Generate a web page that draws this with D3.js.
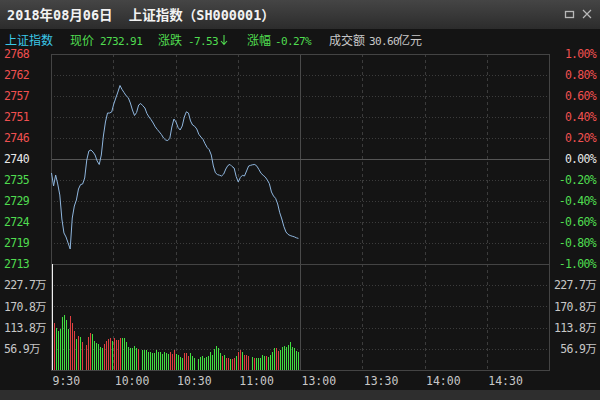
<!DOCTYPE html>
<html lang="zh-CN">
<head>
    <meta charset="UTF-8">
    <title>上证指数 分时图</title>
    <script src="https://cdn.jsdelivr.net/npm/d3@7/dist/d3.min.js"></script>
    <style>
        html, body { margin: 0; padding: 0; background: #141414; }
        svg { display: block; }
    </style>
</head>
<body>
    <div class="chart"></div>
</body>
<script>
    // ---- data ----
    const prevClose = 2740.44
    const titleDate = '2018年08月06日'
    const titleName = '上证指数（SH000001）'
    const indexName = '上证指数'
    const lastPrice = '2732.91'
    const change = '-7.53'
    const changePct = '-0.27%'
    const amount = '30.60'

    const timeTicks = [0, 30, 60, 90, 120, 150, 180, 210]
    const timeLabels = ['9:30', '10:00', '10:30', '11:00', '13:00', '13:30', '14:00', '14:30']
    const pctTicks = [1, 0.8, 0.6, 0.4, 0.2, 0, -0.2, -0.4, -0.6, -0.8, -1]
    const pctLabels = ['1.00%', '0.80%', '0.60%', '0.40%', '0.20%', '0.00%', '-0.20%', '-0.40%', '-0.60%', '-0.80%', '-1.00%']
    const priceLabels = ['2768', '2762', '2757', '2751', '2746', '2740', '2735', '2729', '2724', '2719', '2713']
    const volTicks = [56.9, 113.8, 170.8, 227.7]
    const volLabels = ['56.9万', '113.8万', '170.8万', '227.7万']
    const volMax = 284.6

    // one value per minute from 9:30
    const prices = [2736.79, 2733.39, 2736.26, 2733.92, 2731.05, 2724.78, 2721.13, 2720.09, 2718.52, 2716.95,
        2725.04, 2728.17, 2729.74, 2732.61, 2733.76, 2733.92, 2735.48, 2740.18, 2742.53, 2742.79,
        2742.27, 2741.48, 2739.92, 2739.00, 2741.48, 2746.44, 2750.10, 2752.44, 2752.44, 2752.71,
        2754.79, 2756.36, 2757.92, 2759.62, 2758.58, 2757.74, 2756.93, 2756.44, 2755.05, 2753.23,
        2751.79, 2752.57, 2754.53, 2754.92, 2754.35, 2753.75, 2752.31, 2751.40, 2750.70, 2749.83,
        2748.84, 2748.14, 2747.49, 2746.81, 2745.92, 2745.40, 2745.24, 2745.79, 2748.79, 2750.88,
        2750.10, 2748.66, 2748.01, 2749.05, 2751.40, 2752.76, 2752.44, 2750.36, 2749.31, 2748.97,
        2748.27, 2746.89, 2746.18, 2745.58, 2744.41, 2743.44, 2742.87, 2741.48, 2738.61, 2736.84,
        2736.37, 2736.21, 2736.00, 2736.53, 2737.83, 2738.74, 2739.03, 2738.48, 2738.09, 2735.87,
        2734.44, 2735.61, 2736.19, 2736.00, 2737.31, 2738.61, 2738.80, 2738.95, 2739.00, 2738.56,
        2737.65, 2736.71, 2736.19, 2735.74, 2734.96, 2733.99, 2731.83, 2730.78, 2730.16, 2728.70,
        2726.40, 2724.78, 2722.80, 2721.39, 2720.76, 2720.47, 2720.29, 2720.13, 2719.87, 2719.72]

    // 万手
    const volumes = [300, 125, 114, 106, 110, 142, 148, 135, 110, 146,
        125, 105, 83, 91, 88, 76, 67, 89, 98, 96,
        78, 72, 69, 63, 58, 69, 78, 83, 85, 78,
        87, 81, 81, 85, 87, 87, 74, 63, 58, 60,
        64, 58, 56, 54, 53, 54, 49, 47, 45, 45,
        54, 49, 49, 44, 49, 45, 42, 47, 42, 54,
        42, 40, 36, 33, 45, 45, 38, 45, 38, 31,
        30, 36, 38, 33, 36, 38, 47, 40, 56, 65,
        58, 45, 38, 40, 33, 31, 30, 30, 31, 38,
        49, 54, 49, 40, 40, 38, 36, 31, 33, 33,
        33, 40, 38, 38, 36, 40, 49, 58, 60, 51,
        54, 63, 65, 63, 67, 74, 63, 58, 51, 47]

    // 1 up, -1 down, 0 flat
    const volDir = [0, 1, -1, -1, -1, -1, -1, -1, -1, 1,
        1, 1, -1, 1, -1, 1, 1, 1, 1, -1,
        -1, -1, -1, -1, -1, 1, 1, 1, 1, -1,
        1, 1, 1, 1, -1, -1, -1, -1, -1, -1,
        -1, -1, 1, -1, -1, -1, -1, -1, -1, -1,
        -1, -1, -1, -1, -1, -1, -1, 1, 1, 1,
        -1, -1, -1, -1, 1, 1, 1, -1, -1, -1,
        -1, -1, -1, -1, -1, -1, -1, -1, -1, -1,
        -1, -1, 1, -1, 1, 1, -1, 1, 1, -1,
        1, 1, -1, 1, 1, 1, -1, 1, -1, -1,
        -1, -1, -1, 1, -1, -1, -1, -1, 1, 1,
        -1, -1, -1, -1, -1, -1, -1, -1, -1, -1]

    // ---- layout ----
    const width = 600
    const height = 400
    const plot = { left: 51, right: 549, top: 54, mid: 264, bottom: 370 }
    const RED = '#f05050'
    const GREEN = '#50dc50'
    const BAR_RED = '#e04040'
    const BAR_GREEN = '#40e040'
    const GRAY = '#c8c8c8'
    const MONO = '"DejaVu Sans Mono", "Liberation Mono", monospace'
    const CJK = '"Noto Sans CJK SC", sans-serif'

    const svg = d3.select('.chart')
        .append('svg')
        .attr('width', width)
        .attr('height', height)

    const defs = svg.append('defs')
    const grad = defs.append('linearGradient').attr('id', 'titlebg')
        .attr('x1', 0).attr('y1', 0).attr('x2', 0).attr('y2', 1)
    grad.append('stop').attr('offset', '0%').attr('stop-color', '#454545')
    grad.append('stop').attr('offset', '100%').attr('stop-color', '#2c2c2c')

    svg.append('rect').attr('width', width).attr('height', height).attr('fill', '#141414')
    svg.append('rect').attr('width', width).attr('height', 29).attr('fill', 'url(#titlebg)')
    svg.append('rect').attr('y', 390).attr('width', width).attr('height', 10).attr('fill', '#2e2e2e')

    // title
    svg.append('text')
        .attr('x', 7).attr('y', 20)
        .attr('fill', '#f2f2f2')
        .style('font', `bold 13.5px ${MONO}, ${CJK}`)
        .style('white-space', 'pre')
        .text(titleDate + '  ' + titleName)

    // window buttons
    svg.append('rect').attr('x', 565.5).attr('y', 11.5).attr('width', 8).attr('height', 6)
        .attr('fill', 'none').attr('stroke', '#b8b8b8').attr('stroke-width', 1.3)
    svg.append('path').attr('d', 'M583,10 L591,18 M591,10 L583,18')
        .attr('stroke', '#b8b8b8').attr('stroke-width', 1.2)

    // info row
    function info(x, label, value, color, valueX, unit, unitX) {
        svg.append('text').attr('x', x).attr('y', 45).attr('fill', color)
            .style('font', `12px ${CJK}`).text(label)
        if (value) {
            svg.append('text').attr('x', valueX).attr('y', 45).attr('fill', color)
                .style('font', `11px ${MONO}`).style('letter-spacing', '-0.6px').text(value)
        }
        if (unit) {
            svg.append('text').attr('x', unitX).attr('y', 45).attr('fill', color)
                .style('font', `12px ${CJK}`).text(unit)
        }
    }
    info(5, indexName, null, '#3cc8e8')
    info(70, '现价', lastPrice, GREEN, 100)
    info(158, '涨跌', change, GREEN, 188)
    // down arrow after the change
    svg.append('path').attr('d', 'M224,35 L224,44 M221,41 L224,44.5 L227,41')
        .attr('fill', 'none').attr('stroke', GREEN).attr('stroke-width', 1.1)
    info(247, '涨幅', changePct, GREEN, 275)
    info(329, '成交额', amount, GRAY, 369, '亿元', 398)

    // ---- scales ----
    const xScale = d3.scaleLinear().domain([0, 240]).range([plot.left, plot.right])
    const yPct = d3.scaleLinear().domain([-1, 1]).range([plot.mid, plot.top])
    const yVol = d3.scaleLinear().domain([0, volMax]).range([plot.bottom, plot.mid]).clamp(true)
    const pct = (p) => (p / prevClose - 1) * 100

    // ---- grid ----
    const grid = svg.append('g').attr('stroke-width', 1).attr('shape-rendering', 'crispEdges')
    grid.selectAll('.hgrid')
        .data(pctTicks.filter((d) => d !== 1 && d !== 0 && d !== -1))
        .enter().append('line')
        .attr('x1', plot.left).attr('x2', plot.right)
        .attr('y1', (d) => Math.round(yPct(d)) + 0.5).attr('y2', (d) => Math.round(yPct(d)) + 0.5)
        .attr('stroke', '#3c3c3c').attr('stroke-dasharray', '1,2')
    grid.selectAll('.vgrid')
        .data(volTicks)
        .enter().append('line')
        .attr('x1', plot.left).attr('x2', plot.right)
        .attr('y1', (d) => Math.round(yVol(d)) + 0.5).attr('y2', (d) => Math.round(yVol(d)) + 0.5)
        .attr('stroke', '#3c3c3c').attr('stroke-dasharray', '1,2')
    grid.selectAll('.tgrid')
        .data(timeTicks.filter((d) => d > 0))
        .enter().append('line')
        .attr('x1', (d) => Math.round(xScale(d)) + 0.5).attr('x2', (d) => Math.round(xScale(d)) + 0.5)
        .attr('y1', plot.top).attr('y2', plot.bottom)
        .attr('stroke', (d) => d === 120 ? '#4a4a4a' : '#3c3c3c')
        .attr('stroke-dasharray', (d) => d === 120 ? null : '3,3')
    grid.append('line')
        .attr('x1', plot.left).attr('x2', plot.right)
        .attr('y1', Math.round(yPct(0)) + 0.5).attr('y2', Math.round(yPct(0)) + 0.5)
        .attr('stroke', '#555')
    grid.append('rect')
        .attr('x', plot.left + 0.5).attr('y', plot.top + 0.5)
        .attr('width', plot.right - plot.left).attr('height', plot.bottom - plot.top)
        .attr('fill', 'none').attr('stroke', '#444')
    grid.append('line')
        .attr('x1', plot.left).attr('x2', plot.right)
        .attr('y1', plot.mid + 0.5).attr('y2', plot.mid + 0.5)
        .attr('stroke', '#444')

    // ---- volume bars ----
    // bars sit on even pixel columns so the thin strokes keep their colour
    const volColor = (i) => volDir[i] > 0 ? BAR_RED : volDir[i] < 0 ? BAR_GREEN : '#f0f0f0'
    svg.append('g').attr('shape-rendering', 'crispEdges')
        .selectAll('rect')
        .data(volumes)
        .enter().append('rect')
        .attr('x', (d, i) => Math.round((xScale(i) + 0.8) / 2) * 2)
        .attr('width', 1)
        .attr('y', (d) => Math.round(yVol(d)))
        .attr('height', (d) => plot.bottom - Math.round(yVol(d)))
        .attr('fill', (d, i) => volColor(i))

    // ---- price line ----
    const line = d3.line()
        .x((d, i) => xScale(i) + 0.5)
        .y((d) => yPct(pct(d)))
    svg.append('path')
        .datum(prices)
        .attr('d', line)
        .attr('fill', 'none')
        .attr('stroke', '#8fb6de')
        .attr('stroke-width', 1)

    // ---- axes ----
    const tickColor = (d) => d > 0 ? RED : d < 0 ? GREEN : '#e8e8e8'
    function styleAxis(g) {
        g.select('.domain').remove()
        g.selectAll('line').remove()
        g.selectAll('text')
            .style('font-family', MONO)
            .style('font-size', '11.5px')
            .style('letter-spacing', '-0.7px')
    }
    const leftAxis = svg.append('g')
        .attr('transform', 'translate(4,0)')
        .call(d3.axisRight(yPct).tickValues(pctTicks).tickSize(0).tickPadding(0)
            .tickFormat((d, i) => priceLabels[i]))
        .call(styleAxis)
    leftAxis.selectAll('text').attr('fill', (d) => tickColor(d))

    const rightAxis = svg.append('g')
        .attr('transform', 'translate(596,0)')
        .call(d3.axisLeft(yPct).tickValues(pctTicks).tickSize(0).tickPadding(0)
            .tickFormat((d, i) => pctLabels[i]))
        .call(styleAxis)
    rightAxis.selectAll('text').attr('fill', (d) => tickColor(d))

    function volFont(g) {
        g.select('.domain').remove()
        g.selectAll('line').remove()
        g.selectAll('text')
            .attr('fill', GRAY)
            .style('font-family', `${MONO}, ${CJK}`)
            .style('font-size', '11.5px')
            .style('letter-spacing', '-0.7px')
    }
    svg.append('g')
        .attr('transform', 'translate(4,0)')
        .call(d3.axisRight(yVol).tickValues(volTicks).tickSize(0).tickPadding(0)
            .tickFormat((d, i) => volLabels[i]))
        .call(volFont)
    svg.append('g')
        .attr('transform', 'translate(596,0)')
        .call(d3.axisLeft(yVol).tickValues(volTicks).tickSize(0).tickPadding(0)
            .tickFormat((d, i) => volLabels[i]))
        .call(volFont)

    const timeAxis = svg.append('g')
        .attr('transform', `translate(1,${plot.bottom})`)
        .call(d3.axisBottom(xScale).tickValues(timeTicks).tickSize(0).tickPadding(7)
            .tickFormat((d, i) => timeLabels[i]))
    timeAxis.select('.domain').remove()
    timeAxis.selectAll('text')
        .attr('text-anchor', 'start')
        .attr('fill', GRAY)
        .style('font-family', MONO)
        .style('font-size', '11.5px')
</script>
</html>
